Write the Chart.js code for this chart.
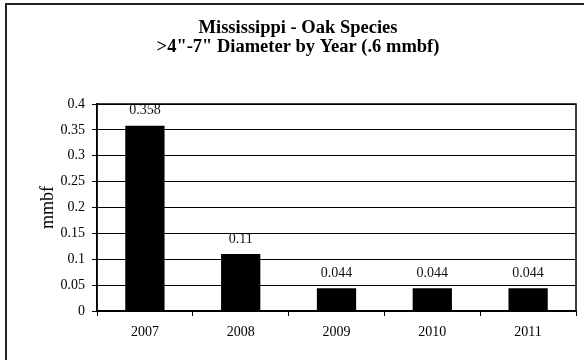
<!DOCTYPE html>
<html>
<head>
<meta charset="utf-8">
<style>
  html, body { margin: 0; padding: 0; background: #fff; }
  #wrap { width: 584px; height: 360px; }
</style>
<script src="https://cdn.jsdelivr.net/npm/chart.js@4/dist/chart.umd.min.js"></script>
</head>
<body>
<div id="wrap"><canvas id="chart" width="584" height="360"></canvas></div>
<script>
// Mississippi oak, >4"-7" diameter, volume by year
const years = ["2007", "2008", "2009", "2010", "2011"];
const volume = [0.358, 0.11, 0.044, 0.044, 0.044];
const valueLabels = ["0.358", "0.11", "0.044", "0.044", "0.044"];
const titleLines = ["Mississippi - Oak Species", ">4\"-7\" Diameter by Year (.6 mmbf)"];

const serif = "'Liberation Serif', 'Times New Roman', serif";

// outer frame of the chart object
const framePlugin = {
  id: "frame",
  beforeDraw(chart) {
    const ctx = chart.ctx;
    ctx.save();
    ctx.fillStyle = "#fff";
    ctx.fillRect(0, 0, chart.width, chart.height);
    ctx.strokeStyle = "#222";
    ctx.lineWidth = 2;
    ctx.strokeRect(6, 4, chart.width + 20, chart.height + 20);
    ctx.restore();
  },
  afterDraw(chart) {
    // plot area border
    const a = chart.chartArea;
    const ctx = chart.ctx;
    ctx.save();
    ctx.strokeStyle = "#000";
    ctx.lineWidth = 1.5;
    ctx.strokeRect(a.left, a.top, a.right - a.left, a.bottom - a.top);
    ctx.restore();
  }
};

// value labels above each bar
const valueLabelPlugin = {
  id: "valueLabels",
  afterDatasetsDraw(chart) {
    const ctx = chart.ctx;
    const meta = chart.getDatasetMeta(0);
    ctx.save();
    ctx.font = "14px " + serif;
    ctx.fillStyle = "#111";
    ctx.textAlign = "center";
    ctx.textBaseline = "middle";
    meta.data.forEach((bar, i) => {
      ctx.fillText(valueLabels[i], bar.x, bar.y - 15);
    });
    ctx.restore();
  }
};

new Chart(document.getElementById("chart"), {
  type: "bar",
  data: {
    labels: years,
    datasets: [{
      data: volume,
      backgroundColor: "#000",
      borderColor: "#000",
      borderWidth: 0,
      categoryPercentage: 1,
      barPercentage: 0.41,
    }]
  },
  options: {
    responsive: false,
    animation: false,
    devicePixelRatio: 1,
    layout: {
      padding: { left: 20, right: 8, top: 0, bottom: 0 }
    },
    scales: {
      x: {
        grid: {
          offset: true,
          drawOnChartArea: false,
          drawTicks: true,
          tickLength: 5,
          color: "#000",
        },
        border: { color: "#000", width: 1.5 },
        ticks: {
          color: "#000",
          padding: 8,
          font: { family: serif, size: 14 },
        },
        afterFit(scale) { scale.height = 49; }
      },
      y: {
        min: 0,
        max: 0.4,
        ticks: {
          stepSize: 0.05,
          color: "#000",
          padding: 7,
          font: { family: serif, size: 14 },
          callback: v => String(Math.round(v * 100) / 100),
        },
        grid: {
          color: "#000",
          lineWidth: 1,
          tickLength: 5,
        },
        border: { color: "#000", width: 1.5 },
        title: {
          display: true,
          text: "mmbf",
          color: "#000",
          font: { family: serif, size: 18 },
          padding: { top: 17, bottom: 0 }
        },
        afterFit(scale) { scale.width = 77; }
      }
    },
    plugins: {
      legend: { display: false },
      tooltip: { enabled: false },
      title: {
        display: true,
        text: titleLines,
        color: "#000",
        font: { family: serif, size: 18.5, weight: "bold", lineHeight: 1.0 },
        padding: { top: 19, bottom: 48 }
      }
    }
  },
  plugins: [framePlugin, valueLabelPlugin]
});
</script>
</body>
</html>
